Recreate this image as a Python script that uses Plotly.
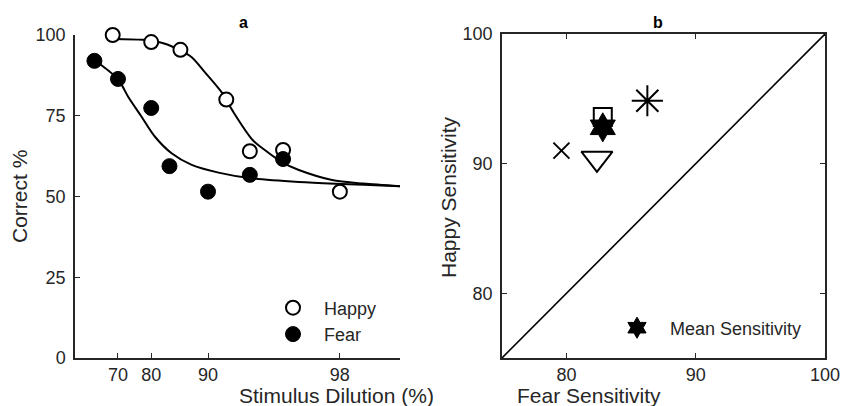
import math
import plotly.graph_objects as go

W, H = 843, 406
FONT = "Liberation Sans, Arial, Helvetica, sans-serif"
INK = "#262626"

# ---- panel a data ----
happy_dilution = [68, 80, 86, 92, 94, 96, 98]
happy_correct = [100, 97.8, 95.4, 80.0, 64.0, 64.4, 51.5]
fear_dilution = [60, 70, 80, 84, 90, 94, 96]
fear_correct = [92.0, 86.4, 77.4, 59.4, 51.5, 56.7, 61.6]

happy_fit_dilution = [68.1, 77.9, 83.1, 85.9, 87.8, 89.6, 91.6, 92.6, 94.2, 95.1, 96.0, 96.7, 97.8, 98.5, 99.04]
happy_fit_correct = [98.8, 98.5, 97.3, 95.3, 93.1, 88.5, 82.0, 76.5, 67.5, 64.0, 60.4, 58.2, 55.1, 54.0, 53.2]
fear_fit_dilution = [60.3, 70.0, 73.5, 77.5, 80.9, 84.4, 87.8, 91.2, 94.0, 96.7, 99.04]
fear_fit_correct = [92.1, 86.3, 80.9, 74.7, 68.5, 63.4, 59.8, 57.4, 55.7, 54.5, 53.2]

dilution_ticks = [70, 80, 90, 98]
correct_ticks = [0, 25, 50, 75, 100]

# ---- panel b data ----
subj_fear = [79.6, 82.35, 82.8, 86.25]
subj_happy = [91.0, 90.4, 93.6, 94.85]
subj_symbols = ["x-thin-open", "triangle-down-open", "square-open", "asterisk-open"]
subj_sizes = [16, 27, 18, 26]
mean_fear = [82.8]
mean_happy = [92.8]
diag = [75, 100]
sens_ticks = [80, 90, 100]


def inv(vals):
    return [100 - v for v in vals]


fig = go.Figure()

fig.add_trace(go.Scatter(x=inv(happy_fit_dilution), y=happy_fit_correct, mode="lines",
                         line=dict(color="black", width=2, shape="spline", smoothing=0.8),
                         showlegend=False, xaxis="x", yaxis="y", hoverinfo="skip"))
fig.add_trace(go.Scatter(x=inv(fear_fit_dilution), y=fear_fit_correct, mode="lines",
                         line=dict(color="black", width=2, shape="spline", smoothing=0.8),
                         showlegend=False, xaxis="x", yaxis="y", hoverinfo="skip"))
fig.add_trace(go.Scatter(x=inv(happy_dilution), y=happy_correct, mode="markers", name="Happy",
                         marker=dict(symbol="circle", size=14, color="white",
                                     line=dict(color="black", width=2)),
                         xaxis="x", yaxis="y", legend="legend", cliponaxis=False))
fig.add_trace(go.Scatter(x=inv(fear_dilution), y=fear_correct, mode="markers", name="Fear",
                         marker=dict(symbol="circle", size=15, color="black",
                                     line=dict(color="black", width=1)),
                         xaxis="x", yaxis="y", legend="legend", cliponaxis=False))

fig.add_trace(go.Scatter(x=diag, y=diag, mode="lines", line=dict(color="black", width=1.6),
                         showlegend=False, xaxis="x2", yaxis="y2", hoverinfo="skip"))
for fx, hy, sym, sz in zip(subj_fear, subj_happy, subj_symbols, subj_sizes):
    fig.add_trace(go.Scatter(x=[fx], y=[hy], mode="markers", showlegend=False,
                             marker=dict(symbol=sym, size=sz, color="black",
                                         line=dict(color="black", width=2)),
                             xaxis="x2", yaxis="y2"))
fig.add_trace(go.Scatter(x=mean_fear, y=mean_happy, mode="markers", name="Mean Sensitivity",
                         marker=dict(symbol="hexagram", size=22, color="black",
                                     line=dict(color="black", width=1)),
                         xaxis="x2", yaxis="y2", legend="legend2"))

axis_common = dict(showgrid=False, zeroline=False, showline=True, linecolor=INK, linewidth=1.5,
                   ticks="inside", ticklen=5, tickwidth=1.2, tickcolor=INK,
                   tickfont=dict(family=FONT, size=18, color=INK))

fig.update_layout(
    width=W, height=H, autosize=False,
    margin=dict(l=0, r=0, t=0, b=0, pad=0, autoexpand=False),
    paper_bgcolor="white", plot_bgcolor="white",
    font=dict(family=FONT, color=INK),
    xaxis=dict(domain=[75 / W, 400 / W], type="log",
               range=[math.log10(50.7), math.log10(0.96)],
               tickvals=inv(dilution_ticks), ticktext=[str(t) for t in dilution_ticks],
               anchor="y", ticklabelstandoff=0, **axis_common),
    yaxis=dict(domain=[1 - 358 / H, 1 - 35 / H], range=[0, 100], tickvals=correct_ticks,
               anchor="x", ticklabelstandoff=4, **axis_common),
    xaxis2=dict(domain=[502 / W, 825 / W], range=[75, 100], tickvals=sens_ticks,
                anchor="y2", mirror="ticks", ticklabelstandoff=0, **axis_common),
    yaxis2=dict(domain=[1 - 358 / H, 1 - 34 / H], range=[75, 100], tickvals=sens_ticks,
                anchor="x2", mirror="ticks", ticklabelstandoff=4, **axis_common),
    legend=dict(x=262 / W, y=1 - 321 / H, xanchor="left", yanchor="middle",
                bgcolor="rgba(0,0,0,0)", font=dict(family=FONT, size=18, color=INK),
                itemsizing="trace", itemwidth=52, tracegroupgap=0),
    legend2=dict(x=604 / W, y=1 - 328 / H, xanchor="left", yanchor="middle",
                 bgcolor="rgba(0,0,0,0)", font=dict(family=FONT, size=18, color=INK),
                 itemsizing="trace", itemwidth=56),
    annotations=[
        dict(text="<b>a</b>", x=237 / W, y=1 - 22 / H, xref="paper", yref="paper",
             yanchor="middle", showarrow=False, font=dict(family=FONT, size=16, color="black")),
        dict(text="<b>b</b>", x=665 / W, y=1 - 22 / H, xref="paper", yref="paper",
             yanchor="middle", showarrow=False, font=dict(family=FONT, size=16, color="black")),
        dict(text="Correct %", x=19 / W, y=1 - 197 / H, xref="paper", yref="paper",
             yanchor="middle", xanchor="center",
             textangle=-90, showarrow=False, font=dict(family=FONT, size=21, color=INK)),
        dict(text="Stimulus Dilution (%)", x=237 / W, y=1 - 395 / H, xref="paper", yref="paper",
             yanchor="middle", showarrow=False, font=dict(family=FONT, size=21, color=INK)),
        dict(text="Happy Sensitivity", x=448 / W, y=1 - 197 / H, xref="paper", yref="paper",
             yanchor="middle", xanchor="center",
             textangle=-90, showarrow=False, font=dict(family=FONT, size=21, color=INK)),
        dict(text="Fear Sensitivity", x=663 / W, y=1 - 395 / H, xref="paper", yref="paper",
             yanchor="middle", showarrow=False, font=dict(family=FONT, size=21, color=INK)),
    ],
)

fig.write_html("out.html", config={"displayModeBar": False},
               post_script="document.body.style.margin='0';document.body.style.overflow='hidden';")
